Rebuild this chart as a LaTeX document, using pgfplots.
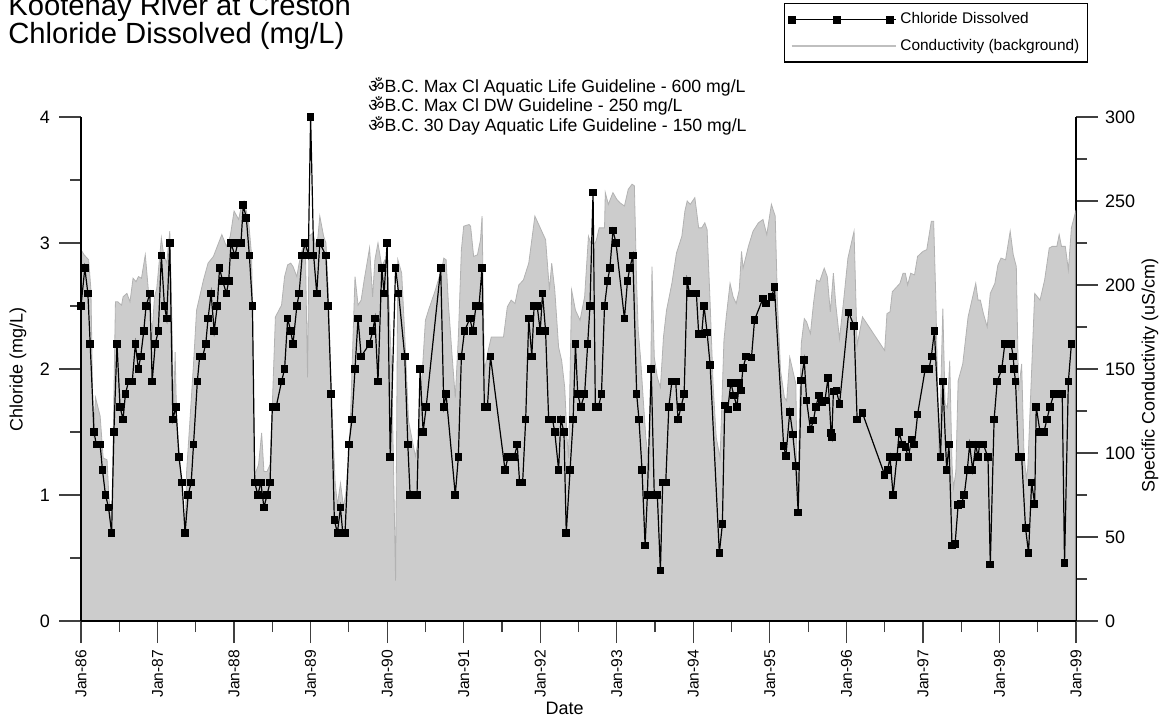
\documentclass[border=0pt]{standalone}
\usepackage{fontspec}
\setmainfont{Liberation Sans}
\newfontfamily\devafont[Script=Devanagari]{Noto Sans}
\usepackage{pgfplots}
\usepackage{pgfplotstable}
\pgfplotsset{compat=1.18}

% Chloride dissolved (mg/L), sample date as decimal year
\pgfplotstableread{
t v
1986.00 2.50
1986.05 2.80
1986.09 2.60
1986.12 2.20
1986.17 1.50
1986.20 1.40
1986.25 1.40
1986.28 1.20
1986.32 1.00
1986.36 0.90
1986.40 0.70
1986.43 1.50
1986.47 2.20
1986.51 1.70
1986.55 1.60
1986.58 1.80
1986.62 1.90
1986.67 1.90
1986.71 2.20
1986.75 2.00
1986.78 2.10
1986.82 2.30
1986.85 2.50
1986.90 2.60
1986.93 1.90
1986.97 2.20
1987.01 2.30
1987.05 2.90
1987.09 2.50
1987.12 2.40
1987.16 3.00
1987.20 1.60
1987.24 1.70
1987.28 1.30
1987.32 1.10
1987.36 0.70
1987.40 1.00
1987.44 1.10
1987.47 1.40
1987.52 1.90
1987.55 2.10
1987.59 2.10
1987.63 2.20
1987.66 2.40
1987.70 2.60
1987.74 2.30
1987.78 2.50
1987.81 2.80
1987.85 2.70
1987.90 2.60
1987.93 2.70
1987.96 3.00
1988.01 2.90
1988.05 3.00
1988.09 3.00
1988.12 3.30
1988.16 3.20
1988.20 2.90
1988.24 2.50
1988.27 1.10
1988.31 1.00
1988.35 1.10
1988.39 0.90
1988.43 1.00
1988.47 1.10
1988.50 1.70
1988.55 1.70
1988.62 1.90
1988.66 2.00
1988.70 2.40
1988.74 2.30
1988.77 2.20
1988.82 2.50
1988.85 2.60
1988.89 2.90
1988.93 3.00
1988.97 2.90
1989.00 4.00
1989.04 2.90
1989.08 2.60
1989.12 3.00
1989.20 2.90
1989.23 2.50
1989.27 1.80
1989.31 0.80
1989.35 0.70
1989.39 0.90
1989.42 0.70
1989.45 0.70
1989.50 1.40
1989.54 1.60
1989.58 2.00
1989.62 2.40
1989.66 2.10
1989.77 2.20
1989.81 2.30
1989.84 2.40
1989.88 1.90
1989.93 2.80
1989.96 2.60
1990.00 3.00
1990.04 1.30
1990.11 2.80
1990.15 2.60
1990.23 2.10
1990.27 1.40
1990.30 1.00
1990.35 1.00
1990.39 1.00
1990.43 2.00
1990.47 1.50
1990.51 1.70
1990.70 2.80
1990.74 1.70
1990.77 1.80
1990.89 1.00
1990.93 1.30
1990.97 2.10
1991.01 2.30
1991.08 2.40
1991.12 2.30
1991.16 2.50
1991.20 2.50
1991.24 2.80
1991.27 1.70
1991.31 1.70
1991.35 2.10
1991.54 1.20
1991.58 1.30
1991.62 1.30
1991.66 1.30
1991.70 1.40
1991.73 1.10
1991.77 1.10
1991.81 1.60
1991.85 2.40
1991.89 2.10
1991.92 2.50
1991.96 2.50
1992.00 2.30
1992.03 2.60
1992.07 2.30
1992.11 1.60
1992.16 1.60
1992.19 1.50
1992.24 1.20
1992.27 1.60
1992.31 1.50
1992.34 0.70
1992.39 1.20
1992.43 1.60
1992.46 2.20
1992.49 1.80
1992.53 1.70
1992.58 1.80
1992.62 2.20
1992.65 2.50
1992.69 3.40
1992.72 1.70
1992.76 1.70
1992.80 1.80
1992.84 2.50
1992.88 2.70
1992.91 2.80
1992.95 3.10
1992.99 3.00
1993.10 2.40
1993.14 2.70
1993.17 2.80
1993.21 2.90
1993.26 1.80
1993.29 1.60
1993.33 1.20
1993.37 0.60
1993.40 1.00
1993.45 2.00
1993.49 1.00
1993.53 1.00
1993.57 0.40
1993.60 1.10
1993.64 1.10
1993.68 1.70
1993.72 1.90
1993.77 1.90
1993.80 1.60
1993.84 1.70
1993.88 1.80
1993.92 2.70
1993.95 2.60
1993.99 2.60
1994.04 2.60
1994.07 2.28
1994.11 2.28
1994.14 2.50
1994.18 2.29
1994.22 2.03
1994.34 0.54
1994.38 0.77
1994.41 1.71
1994.45 1.68
1994.49 1.89
1994.53 1.79
1994.57 1.70
1994.60 1.89
1994.62 1.83
1994.65 2.01
1994.69 2.10
1994.76 2.09
1994.80 2.39
1994.91 2.56
1994.95 2.52
1995.02 2.57
1995.06 2.65
1995.18 1.39
1995.21 1.31
1995.26 1.66
1995.30 1.48
1995.34 1.23
1995.37 0.86
1995.41 1.91
1995.45 2.07
1995.48 1.75
1995.53 1.52
1995.57 1.59
1995.60 1.70
1995.64 1.79
1995.68 1.74
1995.72 1.75
1995.76 1.93
1995.80 1.49
1995.81 1.46
1995.83 1.82
1995.87 1.83
1995.91 1.72
1996.03 2.45
1996.10 2.34
1996.14 1.60
1996.21 1.65
1996.50 1.16
1996.54 1.20
1996.57 1.30
1996.61 1.00
1996.66 1.30
1996.69 1.50
1996.73 1.40
1996.77 1.38
1996.81 1.30
1996.85 1.44
1996.89 1.40
1996.93 1.64
1997.03 2.00
1997.08 2.00
1997.11 2.10
1997.15 2.30
1997.23 1.30
1997.26 1.90
1997.31 1.20
1997.34 1.40
1997.38 0.60
1997.42 0.61
1997.46 0.92
1997.50 0.93
1997.54 1.00
1997.58 1.20
1997.61 1.40
1997.65 1.20
1997.69 1.40
1997.72 1.30
1997.74 1.40
1997.79 1.40
1997.85 1.30
1997.88 0.45
1997.93 1.60
1997.97 1.90
1998.03 2.00
1998.07 2.20
1998.11 2.20
1998.15 2.20
1998.18 2.10
1998.19 2.00
1998.21 1.90
1998.25 1.30
1998.29 1.30
1998.34 0.74
1998.38 0.54
1998.42 1.10
1998.46 0.93
1998.48 1.70
1998.53 1.50
1998.58 1.50
1998.62 1.60
1998.66 1.70
1998.71 1.80
1998.76 1.80
1998.82 1.80
1998.85 0.46
1998.90 1.90
1998.94 2.20
}\chloride

% Specific conductivity (uS/cm), drawn as the background area
\pgfplotstableread{
t c
1986.00 221
1986.04 218
1986.10 215
1986.13 197
1986.16 109
1986.19 133
1986.25 122
1986.29 97
1986.34 96
1986.36 78
1986.40 52
1986.45 190
1986.48 190
1986.53 188
1986.55 193
1986.60 195
1986.64 190
1986.68 204
1986.72 202
1986.75 205
1986.79 204
1986.84 218
1986.88 197
1986.92 165
1986.96 193
1986.99 198
1987.05 228
1987.08 218
1987.12 213
1987.16 232
1987.18 197
1987.21 125
1987.23 160
1987.25 119
1987.29 97
1987.36 52
1987.38 89
1987.42 117
1987.47 153
1987.51 185
1987.56 195
1987.60 203
1987.66 213
1987.73 217
1987.84 230
1987.90 223
1987.95 229
1988.00 244
1988.06 239
1988.10 248
1988.13 250
1988.19 238
1988.23 217
1988.25 149
1988.27 87
1988.32 93
1988.36 112
1988.39 89
1988.43 89
1988.47 93
1988.50 129
1988.54 181
1988.62 188
1988.66 205
1988.70 212
1988.74 213
1988.77 211
1988.82 205
1988.85 213
1988.89 221
1988.93 226
1988.96 145
1988.98 229
1989.03 231
1989.08 221
1989.12 241
1989.17 229
1989.20 225
1989.23 197
1989.27 135
1989.32 83
1989.35 69
1989.39 82
1989.43 68
1989.46 76
1989.51 105
1989.54 149
1989.58 205
1989.62 188
1989.66 191
1989.70 203
1989.77 222
1989.81 193
1989.84 215
1989.88 225
1989.93 211
1989.97 215
1990.00 215
1990.06 149
1990.11 24
1990.14 215
1990.19 207
1990.23 170
1990.28 119
1990.33 107
1990.37 98
1990.41 109
1990.46 149
1990.50 179
1990.54 185
1990.63 197
1990.72 211
1990.74 216
1990.77 215
1990.80 189
1990.85 157
1990.89 133
1990.93 169
1990.97 221
1991.00 235
1991.07 236
1991.09 235
1991.13 217
1991.18 218
1991.22 227
1991.24 241
1991.27 149
1991.32 161
1991.36 169
1991.52 169
1991.57 187
1991.62 191
1991.67 189
1991.72 200
1991.78 203
1991.85 213
1991.93 241
1991.98 236
1992.07 227
1992.12 197
1992.15 213
1992.19 197
1992.24 163
1992.28 155
1992.32 139
1992.35 109
1992.37 97
1992.41 197
1992.46 185
1992.52 179
1992.58 193
1992.63 229
1992.66 225
1992.72 225
1992.74 228
1992.77 234
1992.80 234
1992.84 234
1992.85 255
1992.89 248
1992.95 255
1993.00 251
1993.04 249
1993.10 247
1993.15 257
1993.20 260
1993.23 259
1993.26 200
1993.28 173
1993.31 157
1993.35 129
1993.38 109
1993.43 89
1993.46 211
1993.49 157
1993.53 145
1993.57 139
1993.61 169
1993.65 185
1993.72 201
1993.78 219
1993.85 229
1993.89 244
1993.92 250
1993.96 248
1993.99 250
1994.02 252
1994.07 234
1994.11 234
1994.15 237
1994.18 233
1994.22 189
1994.26 139
1994.30 109
1994.35 97
1994.40 167
1994.43 181
1994.48 201
1994.52 193
1994.56 189
1994.60 197
1994.63 220
1994.65 210
1994.72 223
1994.78 232
1994.85 237
1994.91 239
1994.96 230
1995.02 248
1995.07 241
1995.10 189
1995.14 149
1995.19 133
1995.22 131
1995.26 157
1995.30 149
1995.34 141
1995.36 70
1995.41 165
1995.45 180
1995.48 178
1995.53 171
1995.57 189
1995.61 203
1995.65 202
1995.71 210
1995.75 205
1995.79 184
1995.83 207
1995.86 189
1995.91 168
1995.96 189
1996.02 216
1996.10 232
1996.14 164
1996.21 181
1996.50 161
1996.53 183
1996.57 184
1996.60 196
1996.66 199
1996.70 201
1996.74 207
1996.77 207
1996.80 200
1996.84 207
1996.89 206
1996.93 217
1997.00 220
1997.05 221
1997.11 238
1997.14 238
1997.17 189
1997.21 97
1997.26 186
1997.29 129
1997.32 127
1997.35 155
1997.38 93
1997.40 79
1997.43 89
1997.46 143
1997.52 153
1997.59 181
1997.63 189
1997.69 201
1997.72 191
1997.75 191
1997.79 183
1997.84 175
1997.88 195
1997.94 201
1997.98 212
1998.02 216
1998.08 215
1998.14 232
1998.18 218
1998.22 211
1998.25 137
1998.29 153
1998.32 100
1998.35 85
1998.37 91
1998.42 149
1998.46 195
1998.53 191
1998.59 203
1998.65 222
1998.69 223
1998.75 223
1998.78 230
1998.81 223
1998.86 223
1998.90 209
1998.94 234
1998.99 243
}\conductivity

\pgfplotsset{
  common/.style={
    at={(40.5pt,49pt)}, anchor=south west,
    scale only axis, width=497.5pt, height=252pt,
    xmin=1986, xmax=1999,
    tick align=outside,
    major tick length=11pt, minor tick length=5.5pt,
    tick style={black!75, line width=0.6pt},
    axis line style={black, line width=0.6pt},
    label style={font=\fontsize{9}{9}\selectfont},
    /pgf/number format/assume math mode=true,
  },
  % legend sample: line with three square marks
  marklegend/.style={
    legend image code/.code={
      \draw[##1] plot coordinates {(0pt,0pt) (22.5pt,0pt) (49pt,0pt)};
      \path (0pt,0pt) -- (52pt,0pt);
    }
  },
  % legend sample: plain line of the same length
  lineonlylegend/.style={
    legend image code/.code={
      \draw[##1] (0pt,0pt) -- (49pt,0pt);
      \path (0pt,0pt) -- (52pt,0pt);
    }
  },
}

\begin{document}
\begin{tikzpicture}
\useasboundingbox (0,0) rectangle (580pt,359.5pt);

% titles
\node[anchor=base west, inner sep=0, font=\fontsize{14.6}{14.6}\selectfont] at (4pt,351.5pt) {Kootenay River at Creston};
\node[anchor=base west, inner sep=0, font=\fontsize{14.6}{14.6}\selectfont] at (4pt,337.5pt) {Chloride Dissolved (mg/L)};

% guideline notes
\node[anchor=base west, inner sep=0, font=\fontsize{8.85}{8.85}\selectfont] at (184pt,313.25pt) {{\devafont ॐ}B.C. Max Cl Aquatic Life Guideline - 600 mg/L};
\node[anchor=base west, inner sep=0, font=\fontsize{8.85}{8.85}\selectfont] at (184pt,303.75pt) {{\devafont ॐ}B.C. Max Cl DW Guideline - 250 mg/L};
\node[anchor=base west, inner sep=0, font=\fontsize{8.85}{8.85}\selectfont] at (184pt,293.75pt) {{\devafont ॐ}B.C. 30 Day Aquatic Life Guideline - 150 mg/L};

% conductivity on the right axis, behind
\begin{axis}[common,
  ymin=0, ymax=300,
  axis x line=none, axis y line*=right,
  ytick={0,50,...,300}, minor y tick num=1,
  yticklabel style={font=\fontsize{9}{9}\selectfont},
  ylabel={Specific Conductivity (uS/cm)},
  ylabel style={at={(rel axis cs:1.0744,0.488)}, anchor=center},
]
\addplot[fill=black!20, draw=black!30, line width=0.4pt] table[x=t,y=c]{\conductivity} \closedcycle;
\end{axis}

% chloride on the left axis
\begin{axis}[common,
  ymin=0, ymax=4, clip=false,
  axis x line*=bottom, axis y line*=left,
  xtick={1986,1987,1988,1989,1990,1991,1992,1993,1994,1995,1996,1997,1998,1999},
  xticklabels={Jan-86,Jan-87,Jan-88,Jan-89,Jan-90,Jan-91,Jan-92,Jan-93,Jan-94,Jan-95,Jan-96,Jan-97,Jan-98,Jan-99},
  minor x tick num=1,
  xticklabel style={rotate=90, anchor=east, font=\fontsize{7.8}{7.8}\selectfont},
  ytick={0,1,2,3,4}, minor y tick num=1,
  yticklabel style={font=\fontsize{9}{9}\selectfont, xshift=-1pt},
  xlabel={Date},
  xlabel style={at={(rel axis cs:0.486,-0.1726)}, anchor=center},
  ylabel={Chloride (mg/L)},
  ylabel style={at={(rel axis cs:-0.0633,0.5)}, anchor=center},
  legend style={
    at={(1.012,1.226)}, anchor=north east,
    draw=black, line width=0.6pt,
    font=\fontsize{7.7}{9}\selectfont,
    inner xsep=2pt, inner ysep=2.5pt,
    row sep=2pt,
    cells={anchor=west},
  },
  legend cell align=left,
]
\addplot[black, line width=0.6pt, mark=square*, mark size=1.6pt, marklegend]
  table[x=t,y=v]{\chloride};
\addlegendentry{Chloride Dissolved}
\addlegendimage{black!25, line width=0.6pt, lineonlylegend}
\addlegendentry{Conductivity (background)}
\end{axis}
\end{tikzpicture}
\end{document}
